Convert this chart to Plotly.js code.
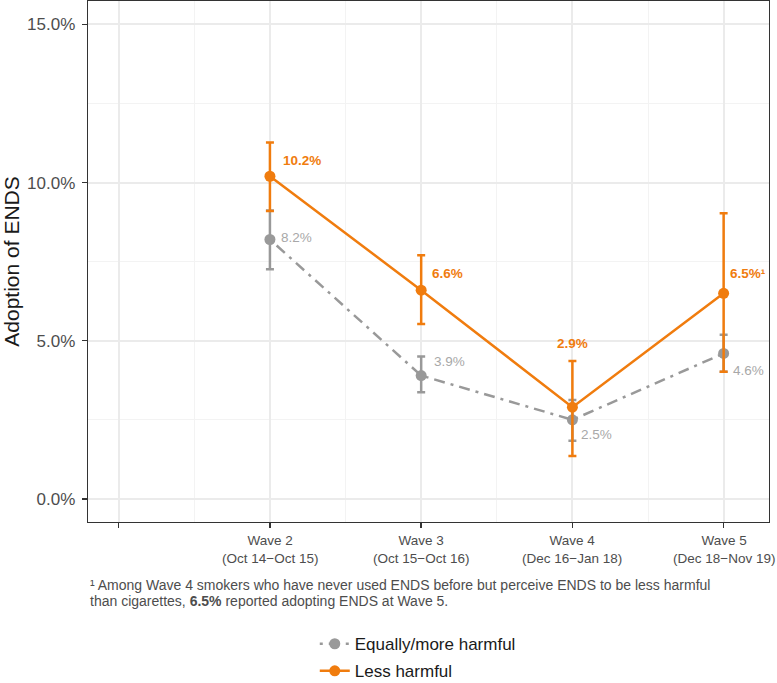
<!DOCTYPE html>
<html>
<head>
<meta charset="utf-8">
<script src="https://cdn.plot.ly/plotly-3.0.1.min.js"></script>
<style>html,body{margin:0;padding:0;background:#fff;}#chart{width:777px;height:683px;}</style>
</head>
<body>
<div id="chart"></div>
<script>
// ---- data ----
const wavePos = [1, 2, 3, 4];
const waveNames = ["Wave 2", "Wave 3", "Wave 4", "Wave 5"];
const wavePeriods = ["(Oct 14\u2212Oct 15)", "(Oct 15\u2212Oct 16)", "(Dec 16\u2212Jan 18)", "(Dec 18\u2212Nov 19)"];
const blankTickPos = [0];
const seriesNames = ["Equally/more harmful", "Less harmful"];
const equalVals = [8.2, 3.9, 2.5, 4.6];
const equalLo = [7.26, 3.37, 1.84, 4.02];
const equalHi = [9.12, 4.50, 3.13, 5.19];
const lessVals = [10.2, 6.6, 2.9, 6.5];
const lessLo = [9.10, 5.53, 1.36, 4.02];
const lessHi = [11.27, 7.70, 4.36, 9.03];
const lessLabelSuffix = ["", "", "", "\u00b9"];
const yTicks = [0, 5, 10, 15];
const footnoteLines = [
  "\u00b9 Among Wave 4 smokers who have never used ENDS before but perceive ENDS to be less harmful",
  "than cigarettes, <b>6.5%</b> reported adopting ENDS at Wave 5."
];

// ---- styles ----
const FONT = "Liberation Sans, Arial, sans-serif";
const GRAY = "#999999", GRAY_TXT = "#a8a8a8", ORANGE = "#f07c0e";
// label placement offsets (px): [xshift, yshift, anchor, relativeToHi]
const equalLabelPos = [[9, 2, "left"], [11, 14, "left"], [7, -15, "left"], [7, -17, "left"]];
const lessLabelPos = [[11, 16, "left", false], [9, 17, "left", false], [0, 17, "center", true], [4, 20, "left", false]];
const footnoteShift = [-63, -79];

const diff = (a, b) => a.map((v, i) => v - b[i]);

const traces = [
  {
    x: wavePos, y: equalVals, name: seriesNames[0], type: "scatter", mode: "lines+markers",
    legendgroup: "a",
    line: {color: GRAY, width: 2.5, dash: "3px,6px,11px,6px"},
    marker: {color: GRAY, size: 11},
    error_y: {type: "data", symmetric: false, array: diff(equalHi, equalVals), arrayminus: diff(equalVals, equalLo),
              color: GRAY, thickness: 2.5, width: 4},
    hoverinfo: "skip"
  },
  {
    x: wavePos, y: lessVals, name: seriesNames[1], type: "scatter", mode: "lines+markers",
    legendgroup: "b",
    line: {color: ORANGE, width: 2.5},
    marker: {color: ORANGE, size: 11},
    error_y: {type: "data", symmetric: false, array: diff(lessHi, lessVals), arrayminus: diff(lessVals, lessLo),
              color: ORANGE, thickness: 2.5, width: 4},
    hoverinfo: "skip"
  }
];

const annotations = [];
equalVals.forEach((v, i) => {
  const p = equalLabelPos[i];
  annotations.push({x: wavePos[i], y: v, xref: "x", yref: "y", text: v.toFixed(1) + "%",
    showarrow: false, xanchor: p[2], yanchor: "middle", xshift: p[0], yshift: p[1],
    font: {family: FONT, size: 13.5, color: GRAY_TXT}});
});
lessVals.forEach((v, i) => {
  const p = lessLabelPos[i];
  annotations.push({x: wavePos[i], y: p[3] ? lessHi[i] : v, xref: "x", yref: "y",
    text: "<b>" + v.toFixed(1) + "%" + lessLabelSuffix[i] + "</b>",
    showarrow: false, xanchor: p[2], yanchor: "middle", xshift: p[0], yshift: p[1],
    font: {family: FONT, size: 13.5, color: ORANGE}});
});
wavePos.forEach((x, i) => {
  annotations.push({x: x, y: 0, xref: "x", yref: "paper", text: waveNames[i] + "<br>" + wavePeriods[i],
    showarrow: false, xanchor: "center", yanchor: "middle", align: "center", yshift: -27,
    font: {family: FONT, size: 13.5, color: "#4d4d4d"}});
});
footnoteLines.forEach((t, i) => {
  annotations.push({x: 0, y: 0, xref: "paper", yref: "paper", text: t, showarrow: false,
    xanchor: "left", yanchor: "middle", align: "left", yshift: footnoteShift[i], xshift: 0,
    font: {family: FONT, size: 14, color: "#4d4d4d"}});
});

const layout = {
  width: 777, height: 683,
  margin: {l: 88, r: 8, t: 1, b: 161, pad: 0, autoexpand: false},
  paper_bgcolor: "#ffffff", plot_bgcolor: "#ffffff",
  font: {family: FONT, color: "#4d4d4d"},
  showlegend: true,
  legend: {orientation: "v", x: 0.333, xanchor: "left", y: -0.2, yanchor: "top",
    traceorder: "grouped", tracegroupgap: 2,
    font: {family: FONT, size: 17, color: "#1a1a1a"}, bgcolor: "rgba(0,0,0,0)"},
  xaxis: {
    range: [-0.203, 4.30], tickvals: blankTickPos.concat(wavePos), ticktext: ["", "", "", "", ""],
    ticks: "outside", ticklen: 5, tickwidth: 1.5, tickcolor: "#333333",
    showline: true, mirror: true, linecolor: "#333333", linewidth: 1.3,
    showgrid: true, gridcolor: "#ebebeb", gridwidth: 2, zeroline: false,
    minor: {tickvals: [0.5, 1.5, 2.5, 3.5], showgrid: true, gridcolor: "#f3f3f3", gridwidth: 1, ticks: ""},
    fixedrange: true
  },
  yaxis: {
    range: [-0.73, 15.74], tickvals: yTicks, ticktext: yTicks.map(v => v.toFixed(1) + "%"),
    ticks: "outside", ticklen: 5, tickwidth: 1.5, tickcolor: "#333333", ticklabelstandoff: 3,
    tickfont: {family: FONT, size: 17, color: "#4d4d4d"},
    showline: true, mirror: true, linecolor: "#333333", linewidth: 1.3,
    showgrid: true, gridcolor: "#ebebeb", gridwidth: 2, zeroline: false,
    minor: {dtick: 2.5, showgrid: true, gridcolor: "#f3f3f3", gridwidth: 1, ticks: ""},
    title: {text: "Adoption of ENDS", standoff: 2, font: {family: FONT, size: 21, color: "#1a1a1a"}},
    automargin: false,
    fixedrange: true
  },
  annotations: annotations
};

Plotly.newPlot("chart", traces, layout, {staticPlot: true, displayModeBar: false});
</script>
</body>
</html>
